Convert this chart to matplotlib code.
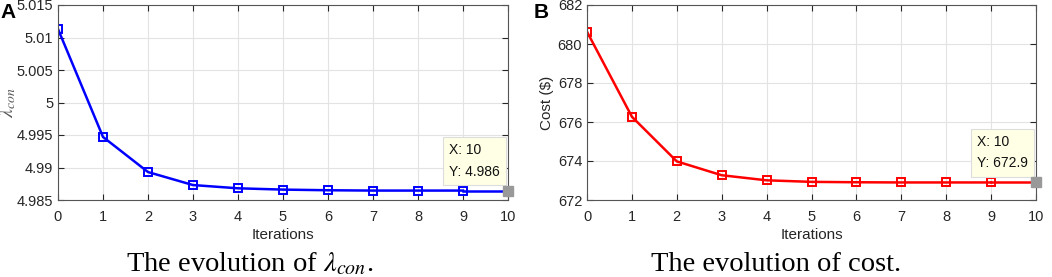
import numpy as np
import matplotlib.pyplot as plt

iters = list(range(11))
lam_con = [5.0113, 4.9947, 4.9893, 4.9873, 4.9868, 4.9866, 4.9865, 4.98645, 4.98645, 4.98645, 4.98645]
cost = [680.63, 676.27, 673.98, 673.27, 673.01, 672.93, 672.91, 672.9, 672.9, 672.9, 672.9]

lam_ticks = [4.985, 4.99, 4.995, 5, 5.005, 5.01, 5.015]
lam_ticklabels = ['4.985', '4.99', '4.995', '5', '5.005', '5.01', '5.015']
cost_ticks = [672, 674, 676, 678, 680, 682]

plt.rcParams['font.family'] = ['Liberation Sans', 'DejaVu Sans']
plt.rcParams['mathtext.fontset'] = 'stix'

fig = plt.figure(figsize=(10.52, 2.77), dpi=100)
W, H = 1052, 277


def panel(left, right, x, y, color, ticks, ticklabels, ylim, ylabel, ylabel_x, tip, caption, cap_x,
          letter, letter_x):
    ax = fig.add_axes([left / W, 1 - 200 / H, (right - left) / W, 195 / H])
    ax.plot(x[:-1], y[:-1], color=color, lw=1.8, marker='s', ms=6, mfc='none', mew=1.4)
    ax.plot(x[-2:], y[-2:], color=color, lw=1.8)
    ax.plot(x[-1], y[-1], marker='s', color='#999999', ms=7, clip_on=False, zorder=5)
    ax.set_xlim(0, 10)
    ax.set_ylim(*ylim)
    ax.set_xticks(x)
    ax.set_yticks(ticks)
    ax.set_yticklabels(ticklabels)
    ax.grid(True, color='#e3e3e3', lw=0.8)
    ax.tick_params(direction='in', top=True, right=True, labelsize=10.5, colors='#262626', length=4)
    ax.tick_params(axis='x', pad=7)
    for s in ax.spines.values():
        s.set_color('#555555')
        s.set_linewidth(0.8)
    ax.set_xlabel('Iterations', fontsize=11, color='#262626', labelpad=3)
    ax.set_ylabel(ylabel[0], fontsize=ylabel[1], color=ylabel[2])
    ax.yaxis.set_label_coords((ylabel_x - left) / (right - left), 0.5)
    ax.annotate(tip, xy=(x[-1], y[-1]), xytext=(-8, 12), textcoords='offset pixels',
                ha='right', va='bottom', multialignment='left', fontsize=10, color='#111111',
                linespacing=1.7,
                bbox=dict(boxstyle='square,pad=0.45', fc='#ffffe6', ec='#dddddd', lw=0.8))
    fig.text(cap_x / W, 1 - 271 / H, caption, fontsize=20.5, family='Liberation Serif',
             ha='center', va='baseline')
    fig.text(letter_x / W, 1 - 12 / H, letter, fontsize=15, fontweight='bold', ha='left', va='center')
    return ax


panel(58, 508, iters, lam_con, '#0000ff', lam_ticks, lam_ticklabels, (4.985, 5.015),
      (r'$\lambda_{con}$', 14, '#555555'), 18, 'X: 10\nY: 4.986',
      r'The evolution of $\lambda_{con}$.', 250, 'A', 0)
panel(587, 1036, iters, cost, '#ff0000', cost_ticks, [str(t) for t in cost_ticks], (672, 682),
      ('Cost (\\$)', 11, '#262626'), 554, 'X: 10\nY: 672.9', 'The evolution of cost.', 776, 'B', 534)

fig.savefig('out.png', dpi=100)
